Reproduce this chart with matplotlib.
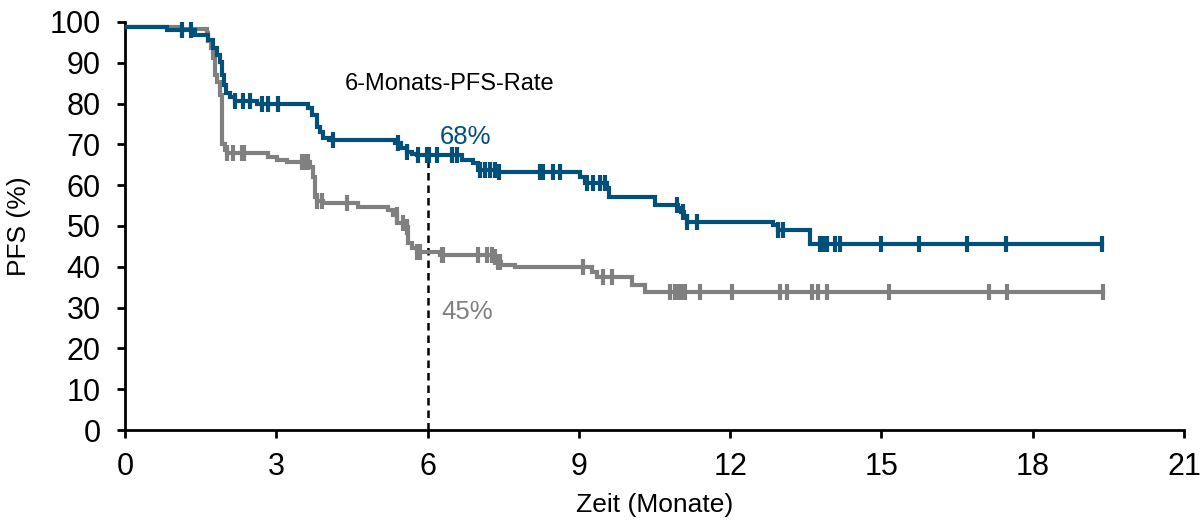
import numpy as np
import matplotlib
matplotlib.use("Agg")
import matplotlib.pyplot as plt

plt.rcParams['font.family'] = ['Liberation Sans', 'DejaVu Sans']

# Blue arm: event times (months) and PFS (%) after each step
blue_t = [0, 0.83, 1.39, 1.65, 1.75, 1.83, 1.89, 1.93, 1.97, 2.01, 2.09, 2.19, 2.62,
          3.63, 3.70, 3.80, 3.87, 3.93, 4.05, 5.35, 5.47, 5.59, 5.69, 5.79, 6.68, 6.90,
          7.00, 7.40, 9.02, 9.12, 9.55, 9.60, 10.51, 10.97, 11.02, 11.08, 11.14, 12.85,
          12.95, 13.58, 19.37]
blue_s = [98.8, 98.0, 96.8, 95.6, 93.6, 92.0, 90.2, 87.0, 84.6, 82.6, 81.6, 80.6, 79.9,
          79.0, 77.2, 74.3, 73.0, 71.6, 71.1, 70.3, 69.1, 68.1, 67.6, 67.4, 66.2, 65.4,
          63.7, 63.2, 62.0, 60.5, 59.3, 57.1, 55.1, 54.4, 53.4, 52.2, 51.0, 50.2,
          49.0, 45.6, 45.6]
blue_cens = [1.12, 1.30, 2.19, 2.33, 2.48, 2.71, 2.83, 3.03, 4.12, 5.41, 5.59, 5.81, 5.99,
             6.03, 6.19, 6.48, 6.58, 7.04, 7.14, 7.24, 7.34, 7.42, 8.23, 8.29, 8.49, 8.63,
             9.16, 9.28, 9.42, 9.52, 10.95, 11.07, 11.14, 11.34, 12.95, 13.05, 13.78, 13.84,
             13.92, 14.08, 14.18, 14.99, 15.74, 16.70, 17.47, 19.37]

# Grey arm
grey_t = [0, 1.05, 1.63, 1.65, 1.70, 1.74, 1.78, 1.82, 1.88, 1.92, 1.98, 2.02, 2.84,
          3.02, 3.21, 3.67, 3.73, 3.77, 3.81, 3.93, 4.62, 5.22, 5.32, 5.40, 5.59, 5.62,
          5.70, 5.78, 6.25, 7.30, 7.40, 7.45, 7.73, 9.26, 9.36, 10.05, 10.31, 19.39]
grey_s = [98.8, 98.3, 97.3, 95.3, 93.6, 91.2, 87.0, 85.3, 82.1, 70.0, 68.6, 67.9, 66.9,
          66.2, 65.7, 64.5, 62.0, 57.1, 56.1, 55.6, 54.7, 53.9, 52.7, 50.7, 49.8, 45.8,
          44.6, 43.6, 42.9, 42.4, 41.2, 40.4, 39.9, 38.7, 37.5, 35.5, 33.8, 33.8]
grey_cens = [2.02, 2.14, 2.32, 2.36, 3.51, 3.57, 3.63, 3.81, 3.91, 4.40, 5.39, 5.51, 5.59,
             5.79, 5.85, 6.29, 6.31, 7.00, 7.18, 7.28, 7.34, 7.40, 7.44, 9.08, 9.48, 9.66,
             10.81, 10.91, 10.97, 11.04, 11.10, 11.40, 12.04, 12.99, 13.13, 13.62, 13.74,
             13.92, 15.15, 17.13, 17.49, 19.39]

x_ticks = [0, 3, 6, 9, 12, 15, 18, 21]
y_ticks = [0, 10, 20, 30, 40, 50, 60, 70, 80, 90, 100]
landmark = 6
blue_label = "68%"
grey_label = "45%"
title_text = "6-Monats-PFS-Rate"

BLUE = "#00507a"
GREY = "#808080"


def step_value(t, s, x):
    idx = np.searchsorted(np.asarray(t), x, side='right') - 1
    idx = np.clip(idx, 0, len(s) - 1)
    return np.asarray(s)[idx]


fig = plt.figure(figsize=(12, 5.23), dpi=100)
ax = fig.add_axes([0.1042, 0.1778, 0.8825, 0.7802])

for t, s, c, col in [(grey_t, grey_s, grey_cens, GREY), (blue_t, blue_s, blue_cens, BLUE)]:
    ax.step(t, s, where='post', color=col, lw=3, solid_joinstyle='miter', zorder=3)
    ax.plot(c, step_value(t, s, np.asarray(c)), ls='none', marker='|', ms=11,
            mew=3, color=col, zorder=3)

ax.plot([landmark, landmark], [0, step_value(blue_t, blue_s, landmark)], color='black',
        lw=1.8, ls=(0, (3, 2)), zorder=2)

ax.text(6.44, 84.8, title_text, ha='center', va='center', fontsize=17, color='black')
ax.text(6.25, 71.8, blue_label, ha='left', va='center', fontsize=18.5, color=BLUE)
ax.text(6.27, 28.9, grey_label, ha='left', va='center', fontsize=18.5, color=GREY)

ax.set_xlim(0, 21)
ax.set_ylim(0, 100)
ax.set_xticks(x_ticks)
ax.set_yticks(y_ticks)
ax.tick_params(axis='both', direction='out', length=6, width=2, labelsize=22,
               colors='black')
ax.tick_params(axis='x', pad=9.5)
ax.tick_params(axis='y', pad=11.5)
for side in ['top', 'right']:
    ax.spines[side].set_visible(False)
for side in ['left', 'bottom']:
    ax.spines[side].set_linewidth(2)
    ax.spines[side].set_color('black')
ax.spines['bottom'].set_zorder(4)
ax.set_xlabel("Zeit (Monate)", fontsize=19, labelpad=8)
ax.set_ylabel("PFS (%)", fontsize=19, labelpad=13)

fig.savefig("out.png", dpi=100)
